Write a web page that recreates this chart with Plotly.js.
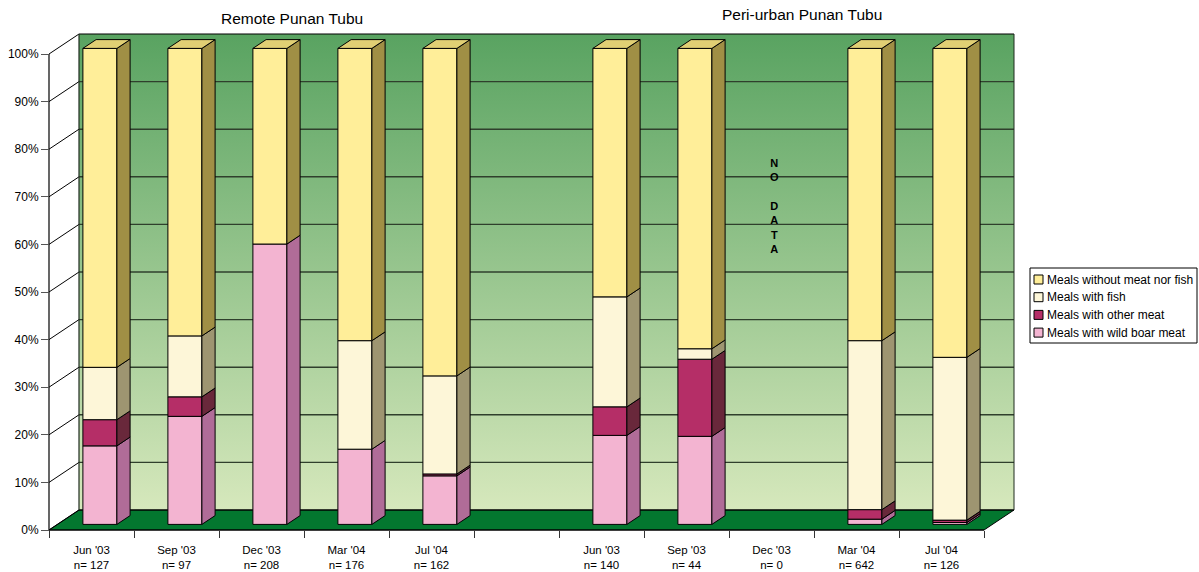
<!DOCTYPE html>
<html>
<head>
<meta charset="utf-8">
<script src="https://cdn.plot.ly/plotly-3.0.1.min.js"></script>
<style>
  html, body { margin: 0; padding: 0; background: #ffffff; }
  #chart { width: 1199px; height: 572px; }
</style>
</head>
<body>
<div id="chart"></div>
<script>
// ---- data ------------------------------------------------------------
const months = ["Jun '03", "Sep '03", "Dec '03", "Mar '04", "Jul '04"];
const groupTitles = ["Remote Punan Tubu", "Peri-urban Punan Tubu"];
const remoteN = [127, 97, 208, 176, 162];
const periUrbanN = [140, 44, 0, 642, 126];

// share of meals (%) per survey month, stacked bottom to top
const seriesNames = [
  "Meals with wild boar meat",
  "Meals with other meat",
  "Meals with fish",
  "Meals without meat nor fish"
];
const remoteWildBoar   = [16.5, 22.7, 58.9, 15.8, 10.2];
const remoteOtherMeat  = [5.5, 4.1, 0, 0, 0.4];
const remoteFish       = [11.0, 12.8, 0, 22.8, 20.6];
const remoteNoMeatFish = [67.0, 60.4, 41.1, 61.4, 68.8];

const periWildBoar   = [18.7, 18.5, null, 1.1, 0.4];
const periOtherMeat  = [6.0, 16.2, null, 2.0, 0.5];
const periFish       = [23.1, 2.2, null, 35.5, 34.2];
const periNoMeatFish = [52.2, 63.1, null, 61.4, 64.9];

const yTickValues = [0, 10, 20, 30, 40, 50, 60, 70, 80, 90, 100];
const yTickLabels = ["0%", "10%", "20%", "30%", "40%", "50%", "60%", "70%", "80%", "90%", "100%"];
const noDataLabel = "N<br>O<br><br>D<br>A<br>T<br>A";

// ---- styling ---------------------------------------------------------
const FONT = "Liberation Sans, Arial, Helvetica, sans-serif";
const frontColors = ["#f3b4d1", "#b52e67", "#fdf6d8", "#ffee99"];
const sideColors  = ["#b06c98", "#69283b", "#9e9571", "#a08f45"];
const topColors   = ["#d692b3", "#8e2a52", "#d8d1ae", "#e1cf74"];
const floorColor  = "#03772f";
const wallTop     = "#59a361";
const wallBottom  = "#d6e8bc";

// ---- frame geometry (pixels) -----------------------------------------
const W = 1199, H = 572;
const frontLeft = 49, frontBottom = 530;       // front corner of the box
const slotPx = 85;                              // width of one category slot
const fullPx = 476;                             // height of 0..100 %
const depthPx = [30, 20];                       // box depth (right, up)
const padPx = 2;                                // room for edge lines
const plotL = frontLeft - padPx, plotB = frontBottom + padPx;
const plotR = 1016, plotT = 32;

const nSlots = 11;                              // 5 + gap + 5
const remoteSlots = [0, 1, 2, 3, 4];
const periSlots = [6, 7, 8, 9, 10];

const pxX = slotPx;            // pixels per x unit
const pxY = fullPx / 100;      // pixels per percent
const DX = depthPx[0] / pxX;   // depth in x data units
const DY = depthPx[1] / pxY;   // depth in y data units
const X0 = -0.5, X1 = nSlots - 0.5;

const xRange = [X0 - padPx / pxX, X0 + (plotR - frontLeft) / pxX];
const yRange = [-padPx / pxY, (frontBottom - plotT) / pxY];
const plotWpx = plotR - plotL, plotHpx = plotB - plotT;
const fx = px => (px - plotL) / plotWpx;        // pixel -> paper x
const fy = py => (plotB - py) / plotHpx;        // pixel -> paper y

// bar placement inside the box depth
const barFront = 0.28, barBack = 0.72, barWidth = 0.4;

// ---- assemble per-slot stacks -----------------------------------------
const remoteSeries = [remoteWildBoar, remoteOtherMeat, remoteFish, remoteNoMeatFish];
const periSeries = [periWildBoar, periOtherMeat, periFish, periNoMeatFish];

const shapes = [];
const traces = [];
const cum = new Array(nSlots).fill(0);
const topIndex = new Array(nSlots).fill(-1);

function pathOf(pts) {
  return "M" + pts.map(p => p[0] + "," + p[1]).join("L") + "Z";
}
function addLine(x0, y0, x1, y1, color, width, layer) {
  shapes.push({ type: "line", xref: "x", yref: "y", x0, y0, x1, y1,
    line: { color, width }, layer: layer || "between" });
}
function addPoly(pts, fill, width, layer) {
  shapes.push({ type: "path", xref: "x", yref: "y", path: pathOf(pts),
    fillcolor: fill, line: { color: "#000", width }, layer: layer || "between" });
}

// last non-empty series per slot (it gets the lid)
seriesNames.forEach((_, s) => {
  remoteSlots.forEach((slot, i) => { if (remoteSeries[s][i] > 0) topIndex[slot] = s; });
  periSlots.forEach((slot, i) => { if (periSeries[s][i] > 0) topIndex[slot] = s; });
});

const faceShapes = [];
seriesNames.forEach((name, s) => {
  const xs = [], ys = [], bases = [];
  const entries = [];
  remoteSlots.forEach((slot, i) => entries.push([slot, remoteSeries[s][i]]));
  periSlots.forEach((slot, i) => entries.push([slot, periSeries[s][i]]));
  entries.forEach(([slot, v]) => {
    if (v == null || !(v > 0)) return;
    const xc = slot + barFront * DX;
    const b0 = cum[slot];
    xs.push(xc);
    ys.push(v);
    bases.push(b0 + barFront * DY);
    // side face
    const xr = xc + barWidth / 2;
    const ddx = (barBack - barFront) * DX, ddy = (barBack - barFront) * DY;
    faceShapes.push({ pts: [
      [xr, b0 + barFront * DY], [xr + ddx, b0 + barBack * DY],
      [xr + ddx, b0 + v + barBack * DY], [xr, b0 + v + barFront * DY]
    ], fill: sideColors[s] });
    // lid
    if (topIndex[slot] === s) {
      const xl = xc - barWidth / 2, yt = b0 + v;
      faceShapes.push({ pts: [
        [xl, yt + barFront * DY], [xl + ddx, yt + barBack * DY],
        [xr + ddx, yt + barBack * DY], [xr, yt + barFront * DY]
      ], fill: topColors[s] });
    }
    cum[slot] = b0 + v;
  });
  traces.push({
    type: "bar", name, x: xs, y: ys, base: bases, width: barWidth,
    marker: { color: frontColors[s], line: { color: "#000", width: 1 } },
    hoverinfo: "skip", showlegend: false
  });
});

// ---- the box: floor, side wall lines, back wall grid ------------------
addPoly([[X0, 0], [X1, 0], [X1 + DX, DY], [X0 + DX, DY]], floorColor, 1);
yTickValues.forEach(v => {
  const edge = (v === 0 || v === 100);
  addLine(X0 + DX, v + DY, X1 + DX, v + DY, edge ? "#000" : "#2f3f2c", edge ? 1.2 : 1.4);
  addLine(X0, v, X0 + DX, v + DY, "#000", 1);
});
addLine(X0 + DX, DY, X0 + DX, 100 + DY, "#1e2a1e", 1.2);
addLine(X1 + DX, DY, X1 + DX, 100 + DY, "#1e2a1e", 1);
addLine(X0, 0, X0, 100, "#000", 1.2);
addLine(X0, 0, X1, 0, "#000", 1.2);

faceShapes.forEach(f => addPoly(f.pts, f.fill, 1, "above"));

// ---- legend box -------------------------------------------------------
const legendBox = { left: 1030, right: 1197, top: 268, bottom: 343 };
const legendRowPx = 17.7;
shapes.push({ type: "rect", xref: "paper", yref: "paper",
  x0: fx(legendBox.left), x1: fx(legendBox.right),
  y0: fy(legendBox.bottom), y1: fy(legendBox.top),
  fillcolor: "#ffffff", line: { color: "#000", width: 1 }, layer: "above" });

const annotations = [];
const legendOrder = [3, 2, 1, 0];
legendOrder.forEach((s, row) => {
  const cy = legendBox.top + 11.5 + row * legendRowPx;
  shapes.push({ type: "rect", xref: "paper", yref: "paper",
    x0: fx(legendBox.left + 4), x1: fx(legendBox.left + 13),
    y0: fy(cy + 4.5), y1: fy(cy - 4.5),
    fillcolor: frontColors[s], line: { color: "#000", width: 1 }, layer: "above" });
  annotations.push({ xref: "paper", yref: "paper", x: fx(legendBox.left + 15), y: fy(cy),
    xanchor: "left", yanchor: "middle", showarrow: false, text: seriesNames[s],
    font: { family: FONT, size: 12, color: "#000" } });
});

// ---- group titles and the empty month note ----------------------------
annotations.push({ xref: "x", yref: "paper", x: 2 + DX, y: fy(19), xanchor: "center",
  yanchor: "middle", showarrow: false, text: groupTitles[0],
  font: { family: FONT, size: 15.5, color: "#000" } });
annotations.push({ xref: "x", yref: "paper", x: 8 + DX, y: fy(15), xanchor: "center",
  yanchor: "middle", showarrow: false, text: groupTitles[1],
  font: { family: FONT, size: 15.5, color: "#000" } });
annotations.push({ xref: "x", yref: "y", x: 8 + 0.04, y: (frontBottom - 205.5) / pxY,
  xanchor: "center", yanchor: "middle", showarrow: false, text: "<b>" + noDataLabel + "</b>",
  font: { family: FONT, size: 11, color: "#000" } });

// ---- x tick labels ------------------------------------------------------
const tickVals = [], tickText = [];
remoteSlots.forEach((slot, i) => { tickVals.push(slot); tickText.push(months[i] + "<br>n= " + remoteN[i]); });
periSlots.forEach((slot, i) => { tickVals.push(slot); tickText.push(months[i] + "<br>n= " + periUrbanN[i]); });
const boundaries = [];
for (let k = 0; k <= nSlots; k++) boundaries.push(k - 0.5);

// ---- wall gradient ---------------------------------------------------
const wallSvg =
  '<svg xmlns="http://www.w3.org/2000/svg" width="100" height="100" viewBox="0 0 100 100" preserveAspectRatio="none">' +
  '<defs><linearGradient id="g" x1="0" y1="0" x2="0" y2="1">' +
  '<stop offset="0" stop-color="' + wallTop + '"/><stop offset="1" stop-color="' + wallBottom + '"/>' +
  '</linearGradient></defs><rect width="100" height="100" fill="url(#g)"/></svg>';

const layout = {
  width: W, height: H,
  margin: { l: plotL, r: W - plotR, t: plotT, b: H - plotB, pad: 0 },
  paper_bgcolor: "#ffffff",
  plot_bgcolor: "rgba(0,0,0,0)",
  barmode: "overlay",
  showlegend: false,
  font: { family: FONT, size: 11, color: "#000" },
  xaxis: {
    type: "linear", range: xRange, fixedrange: true,
    anchor: "free", position: padPx / plotHpx,
    tickmode: "array", tickvals: tickVals, ticktext: tickText,
    ticks: "outside", ticklen: 9, tickcolor: "rgba(0,0,0,0)",
    minor: { tickmode: "array", tickvals: boundaries, ticks: "outside", ticklen: 7,
             tickcolor: "#333", tickwidth: 1, showgrid: false },
    tickfont: { family: FONT, size: 11.5, color: "#000" },
    showgrid: false, zeroline: false, showline: false
  },
  yaxis: {
    type: "linear", range: yRange, fixedrange: true,
    anchor: "free", position: padPx / plotWpx,
    tickmode: "array", tickvals: yTickValues, ticktext: yTickLabels,
    ticks: "outside", ticklen: 8, tickcolor: "#555", tickwidth: 1,
    tickfont: { family: FONT, size: 12, color: "#000" },
    showgrid: false, zeroline: false, showline: false
  },
  images: [{
    source: "data:image/svg+xml;charset=utf-8," + encodeURIComponent(wallSvg),
    xref: "x", yref: "y", x: X0 + DX, y: 100 + DY, sizex: X1 - X0, sizey: 100,
    xanchor: "left", yanchor: "top", sizing: "stretch", layer: "below"
  }],
  shapes, annotations
};

Plotly.newPlot("chart", traces, layout, { staticPlot: true, displayModeBar: false });
</script>
</body>
</html>
